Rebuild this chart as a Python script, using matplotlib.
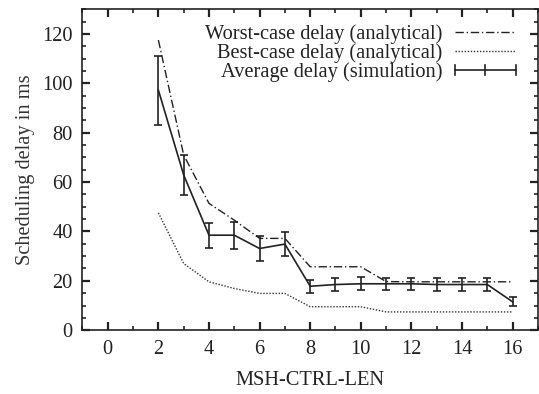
import numpy as np
import matplotlib.pyplot as plt
from matplotlib.ticker import MultipleLocator
from matplotlib.legend_handler import HandlerBase
from matplotlib.lines import Line2D

# data
msh_ctrl_len = [2, 3, 4, 5, 6, 7, 8, 9, 10, 11, 12, 13, 14, 15, 16]
worst_case = [117.6, 71.0, 51.4, 44.6, 37.2, 37.2, 25.7, 25.7, 25.7, 19.7, 19.6, 19.6, 19.6, 19.6, 19.6]
best_case = [47.6, 27.0, 19.6, 16.9, 14.9, 14.9, 9.5, 9.5, 9.5, 7.4, 7.4, 7.4, 7.4, 7.4, 7.4]
avg_delay = [97.3, 62.9, 38.5, 38.5, 33.1, 34.9, 17.8, 18.5, 18.8, 18.8, 18.8, 18.5, 18.5, 18.5, 11.5]
avg_err = [14.0, 8.0, 5.0, 5.5, 5.0, 4.7, 2.6, 2.5, 2.6, 2.5, 2.5, 2.5, 2.5, 2.5, 1.8]

plt.rcParams['font.family'] = ['Liberation Serif', 'DejaVu Serif']
FS = 14.7
INK = '#222222'


class HorizErrHandler(HandlerBase):
    # gnuplot-like key sample: |----+----|
    def create_artists(self, legend, orig_handle, xdescent, ydescent,
                       width, height, fontsize, trans):
        y = height / 2 - ydescent
        x0, x1 = -xdescent, width - xdescent
        xm = (x0 + x1) / 2
        cap = height * 0.35
        arts = [Line2D([x0, x1], [y, y]),
                Line2D([x0, x0], [y - cap, y + cap]),
                Line2D([x1, x1], [y - cap, y + cap]),
                Line2D([xm, xm], [y - cap, y + cap])]
        for a in arts:
            a.set_color(INK)
            a.set_linewidth(1.2)
            a.set_transform(trans)
        return arts


fig = plt.figure(figsize=(5.39, 3.94), dpi=100)
ax = fig.add_axes([0.153, 0.162, 0.845, 0.814])

l1, = ax.plot(msh_ctrl_len, worst_case, color=INK, linewidth=1.0,
              linestyle=(0, (6, 2, 1, 2)), label='Worst-case delay (analytical)')
l2, = ax.plot(msh_ctrl_len, best_case, color='#333333', linewidth=1.0,
              linestyle=(0, (1, 1.2)), label='Best-case delay (analytical)')
eb = ax.errorbar(msh_ctrl_len, avg_delay, yerr=avg_err, color=INK,
                 linewidth=1.2, elinewidth=1.2, capsize=3, capthick=1.2,
                 label='Average delay (simulation)')

ax.set_xlim(-1, 17)
ax.set_ylim(0, 130)
ax.xaxis.set_major_locator(MultipleLocator(2))
ax.xaxis.set_minor_locator(MultipleLocator(1))
ax.yaxis.set_major_locator(MultipleLocator(20))
ax.yaxis.set_minor_locator(MultipleLocator(5))
ax.tick_params(which='both', direction='in', top=True, right=True,
               labelsize=FS, width=1.2, colors=INK)
ax.tick_params(which='major', length=6, width=1.6, pad=7)
ax.tick_params(which='minor', length=3)
for s in ax.spines.values():
    s.set_linewidth(1.2)
    s.set_color(INK)

ax.set_xlabel('MSH-CTRL-LEN', fontsize=FS, labelpad=9, color=INK)
ax.set_ylabel('Scheduling delay in ms', fontsize=FS, labelpad=5, color='#333333')

leg = ax.legend([l1, l2, eb],
                ['Worst-case delay (analytical)', 'Best-case delay (analytical)',
                 'Average delay (simulation)'],
                handler_map={type(eb): HorizErrHandler()},
                loc='upper right', bbox_to_anchor=(0.952, 0.954),
                markerfirst=False, frameon=False,
                fontsize=FS, handlelength=3.0, labelspacing=-0.04,
                borderaxespad=0, borderpad=0, handletextpad=0.6)
for t in leg.get_texts():
    t.set_color(INK)

plt.savefig('out.png', dpi=100)
